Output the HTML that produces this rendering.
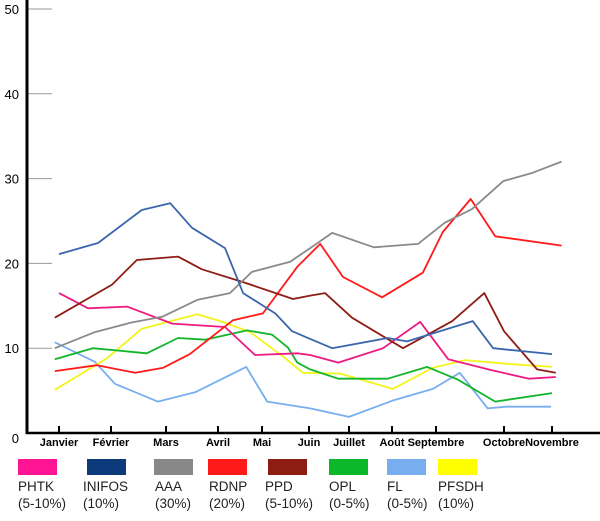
<!DOCTYPE html>
<html><head><meta charset="utf-8"><style>
body{margin:0;background:#fff;width:600px;height:521px;overflow:hidden;font-family:"Liberation Sans",Arial,sans-serif}
svg{display:block}
</style></head><body>
<svg id="chart" width="600" height="521" viewBox="0 0 600 521" xmlns="http://www.w3.org/2000/svg"></svg>
<script>
const months=["Janvier","Février","Mars","Avril","Mai","Juin","Juillet","Août","Septembre","Octobre","Novembre"];
const yTicks=[0,10,20,30,40,50];
const seriesNames=["PHTK","INIFOS","AAA","RDNP","PPD","OPL","FL","PFSDH"];
const seriesShares=["(5-10%)","(10%)","(30%)","(20%)","(5-10%)","(0-5%)","(0-5%)","(10%)"];
const phtkX=[0,0.56,1.29,2.12,3.16,3.84,4.75,5.03,5.73,6.79,7.64,8.18,8.82,9.52,10.08];
const phtkV=[16.5,14.7,14.9,12.9,12.5,9.2,9.4,9.2,8.3,10.0,13.1,8.7,7.4,6.4,6.6];
const infosX=[0,0.75,1.56,2.08,2.5,3.16,3.57,4.28,4.64,5.03,5.58,6.9,7.34,8.54,8.84,10];
const infosV=[21.1,22.4,26.3,27.1,24.2,21.8,16.5,14.1,12.0,11.1,10.0,11.2,10.8,13.2,10.0,9.3];
const aaaX=[-0.08,0.69,1.35,1.93,2.6,3.27,3.77,4.6,5.03,5.58,6.58,7.59,8.13,8.53,8.99,9.6,10.2];
const aaaV=[10.0,11.9,13.0,13.7,15.7,16.5,19.0,20.2,21.8,23.6,21.9,22.3,24.8,26.4,29.7,30.7,32.0];
const rdnpX=[-0.08,0.73,1.44,1.95,2.46,3.34,4.02,4.75,5.28,5.85,6.77,7.7,8.1,8.51,8.87,10.2];
const rdnpV=[7.3,8.0,7.1,7.7,9.3,13.3,14.1,19.6,22.3,18.4,16.0,18.9,23.7,27.6,23.2,22.1];
const ppdX=[-0.08,1.02,1.47,2.23,2.69,3.57,4.66,5.03,5.4,6.07,7.25,8.24,8.71,9,9.69,10.08];
const ppdV=[13.6,17.5,20.4,20.8,19.3,17.8,15.8,16.2,16.5,13.6,10.0,13.2,16.5,12.0,7.5,7.1];
const oplX=[-0.08,0.65,1.65,2.23,2.75,3.66,4.21,4.55,4.75,5.03,5.73,6.9,7.8,8.32,8.87,10];
const oplV=[8.7,10.0,9.4,11.2,11.0,12.1,11.6,10.1,8.3,7.5,6.4,6.4,7.8,6.3,3.7,4.7];
const flX=[-0.08,0.69,1.07,1.85,2.56,3.64,4.11,5.03,6,7,7.93,8.35,8.76,9.04,9.98];
const flV=[10.7,8.4,5.8,3.7,4.8,7.8,3.7,2.9,1.9,3.8,5.2,7.1,2.9,3.1,3.1];
const pfsdhX=[-0.08,0.92,1.56,2.6,3.11,3.73,4.45,4.87,5.78,7.02,7.93,8.43,9.19,10];
const pfsdhV=[5.1,8.8,12.3,14.0,13.1,11.9,9.0,7.1,7.0,5.2,7.7,8.6,8.1,7.8];

const tickPx=[59,111,166,218,262,309,349,392,436,504,552];
function xScale(i){
  let k=Math.max(0,Math.min(tickPx.length-2,Math.floor(i)));
  return tickPx[k]+(i-k)*(tickPx[k+1]-tickPx[k]);
}
function yScale(v){return 433-v*8.48;}
const NS="http://www.w3.org/2000/svg";
const svg=document.getElementById('chart');
function mk(tag,attrs,parent){const e=document.createElementNS(NS,tag);for(const k in attrs)e.setAttribute(k,attrs[k]);(parent||svg).appendChild(e);return e;}

yTicks.forEach(t=>{
  const y=yScale(t);
  if(t>0){
    const g=mk('line',{x1:27,x2:52,y1:y,y2:y,stroke:'#999','stroke-width':1});
    
    
  }
  const tx=mk('text',{x:t===0?19:19,y:(t===0?y+10:y+5),'text-anchor':'end','font-size':13,fill:'#000'});
  tx.textContent=t;
  
  
});
const ya=mk('line',{x1:27,x2:27,y1:0,y2:434,stroke:'#000','stroke-width':3});


const xa=mk('line',{x1:26,x2:600,y1:433,y2:433,stroke:'#000','stroke-width':2.5});


months.forEach((m,i)=>{
  const x=xScale(i);
  const tk=mk('line',{x1:x,x2:x,y1:426,y2:433,stroke:'#000','stroke-width':2});
  
  
  const tx=mk('text',{x:x,y:446,'text-anchor':'middle','font-size':11,'font-weight':'bold',fill:'#000'});
  tx.textContent=m;
  
  
});
const series=[
 {x:phtkX,v:phtkV,c:'#ee1a80'},
 {x:infosX,v:infosV,c:'#3a66ad'},
 {x:aaaX,v:aaaV,c:'#8a8a8a'},
 {x:rdnpX,v:rdnpV,c:'#ff1a1a'},
 {x:ppdX,v:ppdV,c:'#8e1d14'},
 {x:oplX,v:oplV,c:'#12b52a'},
 {x:flX,v:flV,c:'#78aef0'},
 {x:pfsdhX,v:pfsdhV,c:'#f4f41a'}
];
const swatch=['#ff1493','#0d3a7a','#888888','#ff1a1a','#8e1d14','#0cb82a','#78aef0','#ffff00'];
const legX=[18,87,154,208,268,329,387,438];
const txtX=[18,83,155,209,265,329,387,438];
// draw in back-to-front order similar to reference
[6,7,5,0,3,4,2,1].forEach(si=>{
  const s=series[si];
  const pts=s.x.map((xi,j)=>xScale(xi).toFixed(1)+','+yScale(s.v[j]).toFixed(1)).join(' ');
  const pl=mk('polyline',{points:pts,fill:'none',stroke:s.c,'stroke-width':1.8,'stroke-linejoin':'round'});
  
  
});
seriesNames.forEach((n,i)=>{
  const r=mk('rect',{x:legX[i],y:459,width:39,height:16,fill:swatch[i]});
  
  
  const t1=mk('text',{x:txtX[i],y:491,'font-size':13.5,fill:'#222'});
  t1.textContent=n;
  
  
  const t2=mk('text',{x:txtX[i],y:508,'font-size':13.5,fill:'#222'});
  t2.textContent=seriesShares[i];
  
  
});
</script>
</body></html>
